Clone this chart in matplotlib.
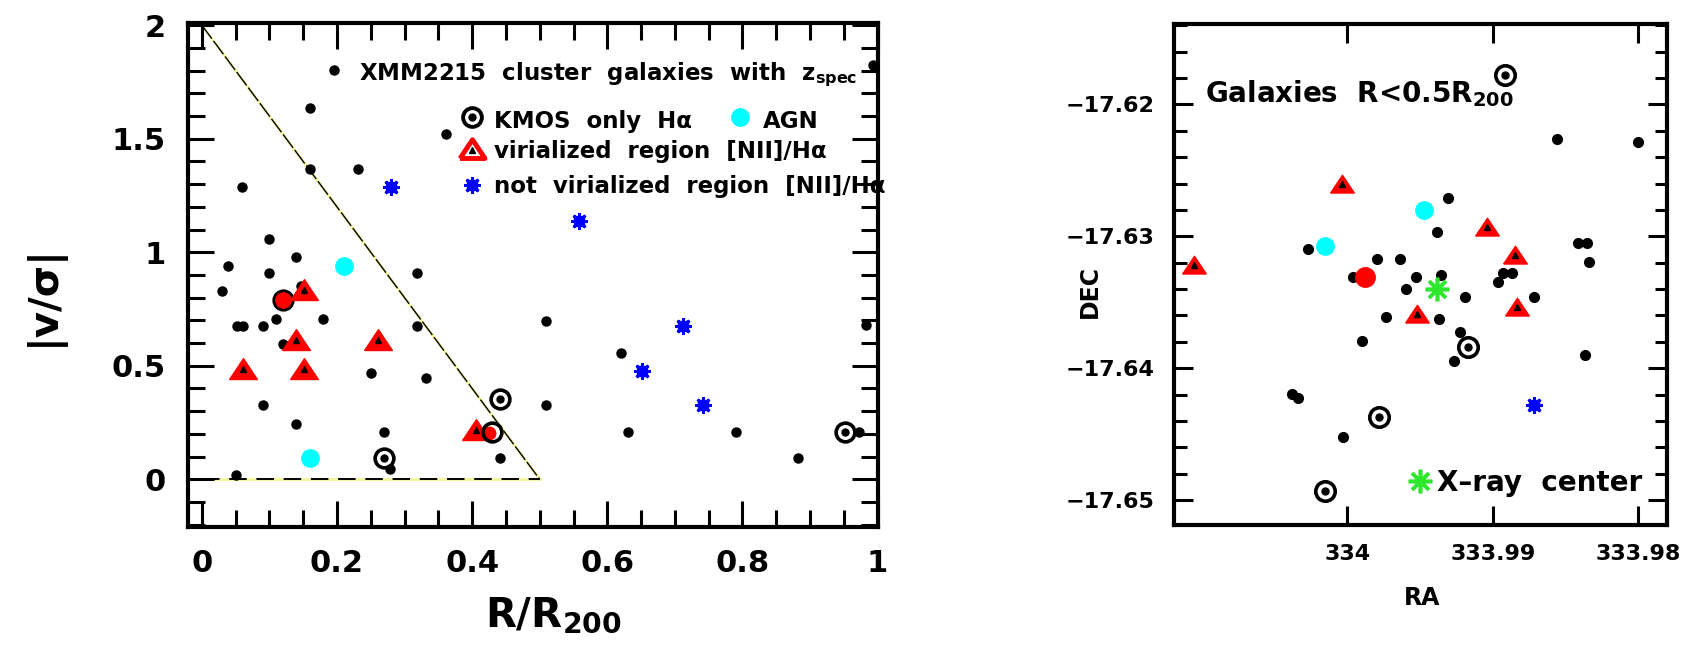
import matplotlib
matplotlib.use("Agg")
import matplotlib.pyplot as plt
from matplotlib.ticker import MultipleLocator, FuncFormatter

plt.rcParams['font.family'] = ['DejaVu Sans']
plt.rcParams['font.weight'] = 'bold'
plt.rcParams['axes.labelweight'] = 'bold'
plt.rcParams['mathtext.default'] = 'bf'

# ---- left panel data: R/R200 vs |v/sigma|
cl_r = [0.160, 0.361, 0.160, 0.231, 0.059, 0.100, 0.140, 0.039, 0.100, 0.319,
        0.030, 0.110, 0.180, 0.052, 0.061, 0.090, 0.319, 0.510, 0.620, 0.120,
        0.250, 0.331, 0.510, 0.090, 0.140, 0.270, 0.441, 0.279, 0.051, 0.631,
        0.791, 0.973, 0.882, 0.983, 0.993, 0.147]
cl_v = [1.637, 1.523, 1.369, 1.369, 1.288, 1.058, 0.979, 0.940, 0.909, 0.909,
        0.828, 0.708, 0.708, 0.675, 0.675, 0.675, 0.675, 0.697, 0.556, 0.598,
        0.468, 0.448, 0.326, 0.326, 0.245, 0.208, 0.096, 0.047, 0.018, 0.208,
        0.208, 0.208, 0.096, 0.678, 1.824, 0.850]
kmos_r = [0.441, 0.430, 0.269, 0.952]
kmos_v = [0.355, 0.208, 0.096, 0.208]
vir_r = [0.151, 0.140, 0.260, 0.061, 0.151, 0.406]
vir_v = [0.836, 0.612, 0.612, 0.488, 0.488, 0.216]
agn_r = [0.210, 0.160]
agn_v = [0.938, 0.096]
nvir_r = [0.280, 0.558, 0.712, 0.651, 0.742]
nvir_v = [1.288, 1.138, 0.674, 0.476, 0.326]
red_r = [0.120, 0.425]
red_v = [0.789, 0.205]

# ---- right panel data: RA / DEC
gal_ra = [333.98561, 333.98000, 333.99310, 333.99381, 334.00268, 333.98412,
          333.98355, 333.98337, 333.99794, 333.99638, 333.99963, 333.99528,
          333.99358, 333.99597, 333.99191, 333.98962, 333.98928, 333.98870,
          333.98717, 333.99734, 333.99368, 333.99225, 333.99267, 333.99901,
          333.98366, 334.00382, 334.00341, 334.00032]
gal_dec = [-17.62260, -17.62286, -17.62711, -17.62969, -17.63095, -17.63052,
           -17.63052, -17.63196, -17.63171, -17.63171, -17.63310, -17.63305,
           -17.63290, -17.63398, -17.63462, -17.63348, -17.63280, -17.63280,
           -17.63462, -17.63609, -17.63626, -17.63728, -17.63948, -17.63796,
           -17.63904, -17.64195, -17.64225, -17.64519]
vir_ra = [334.00038, 333.99038, 333.98847, 334.01054, 333.98836, 333.99519]
vir_dec = [-17.62602, -17.62926, -17.63140, -17.63220, -17.63538, -17.63588]
agn_ra = [333.99473, 334.00153]
agn_dec = [-17.62799, -17.63077]
red_ra = [333.99878]
red_dec = [-17.63310]
kmos_ra = [333.98916, 333.99173, 333.99780, 334.00153]
kmos_dec = [-17.61780, -17.63841, -17.64367, -17.64929]
nvir_ra = [333.98715]
nvir_dec = [-17.64276]
xray_ra = [333.99386]
xray_dec = [-17.63398]

fig = plt.figure(figsize=(16.89, 6.51), dpi=100)

tri = [(-1, -0.72), (1, -0.72), (0, 0.78), (-1, -0.72)]
star = (8, 2, 0)


def bluestar(a, x, y):
    a.plot(x, y, 's', color='blue', ms=7.5, zorder=4)
    a.plot(x, y, marker=star, ls='none', color='blue', ms=12, mew=2, zorder=4)


# ================= left panel
ax = fig.add_axes([0.1115, 0.1905, 0.4081, 0.7742])
ax.plot([0, 0.5], [0, 0], color='#f4f49a', lw=2, zorder=1)
ax.plot([0, 0.5], [2, 0], color='#f4f49a', lw=2, zorder=1)
ax.plot([0, 0.5], [0, 0], color='black', lw=1.4, dashes=(9, 5), zorder=2)
ax.plot([0, 0.5], [2, 0], color='black', lw=1.0, dashes=(12, 2), zorder=2)

ax.plot(cl_r, cl_v, 'o', color='black', ms=6.5, zorder=3)
ax.plot(red_r[:1], red_v[:1], 'o', mfc='red', mec='black', mew=2, ms=14, zorder=4)
ax.plot(red_r[1:], red_v[1:], 'o', mfc='red', mec='red', ms=9, zorder=4)
ax.plot(vir_r, vir_v, marker=tri, ls='none', mfc='red', mec='red', ms=20, zorder=5)
ax.plot(vir_r, vir_v, '^', color='black', ms=5, zorder=6)
ax.plot(agn_r, agn_v, 'o', color='cyan', ms=12.5, zorder=4)
bluestar(ax, nvir_r, nvir_v)
ax.plot(kmos_r, kmos_v, 'o', mfc='none', mec='black', ms=13.5, mew=2.6, zorder=6)
ax.plot(kmos_r[::2], kmos_v[::2], 'o', color='black', ms=5, zorder=6)
ax.plot(kmos_r[3:], kmos_v[3:], 'o', color='black', ms=5, zorder=6)

# legend, drawn in place like the original
fs = 16.5
ax.plot([0.195], [1.802], 'o', color='black', ms=6.5)
ax.text(0.232, 1.758, 'XMM2215  cluster  galaxies  with  z$_{spec}$', fontsize=fs, va='baseline')
ax.plot([0.400], [1.596], 'o', mfc='none', mec='black', ms=13.5, mew=2.8)
ax.plot([0.400], [1.596], 'o', color='black', ms=5)
ax.text(0.432, 1.546, 'KMOS  only  H\u03b1', fontsize=fs, va='baseline')
ax.plot([0.797], [1.596], 'o', color='cyan', ms=12.5)
ax.text(0.830, 1.546, 'AGN', fontsize=fs, va='baseline')
ax.plot([0.400], [1.457], marker=tri, ls='none', mfc='white', mec='red', mew=3.5, ms=18)
ax.plot([0.400], [1.450], '^', color='black', ms=5)
ax.text(0.432, 1.414, 'virialized  region  [NII]/H\u03b1', fontsize=fs, va='baseline')
bluestar(ax, [0.400], [1.295])
ax.text(0.432, 1.260, 'not  virialized  region  [NII]/H\u03b1', fontsize=fs, va='baseline')

ax.set_xlim(-0.02, 1.0)
ax.set_ylim(-0.21, 2.01)
ax.xaxis.set_major_locator(MultipleLocator(0.2))
ax.xaxis.set_minor_locator(MultipleLocator(0.05))
ax.yaxis.set_major_locator(MultipleLocator(0.5))
ax.yaxis.set_minor_locator(MultipleLocator(0.1))
fmt = FuncFormatter(lambda v, p: f'{v:g}')
ax.xaxis.set_major_formatter(fmt)
ax.yaxis.set_major_formatter(fmt)
ax.tick_params(which='both', direction='in', top=True, right=True, width=2.2, labelsize=22)
ax.tick_params(which='major', length=19, pad=16)
ax.tick_params(which='minor', length=12)
ax.tick_params(axis='y', pad=16)
for s in ax.spines.values():
    s.set_linewidth(3)
ax.set_xlabel('R/R$_{200}$', fontsize=29)
ax.xaxis.label.set_va('center')
ax.xaxis.set_label_coords(0.53, -0.175)
ax.set_ylabel('|v/\u03c3|', fontsize=29)
ax.yaxis.label.set_va('center')
ax.yaxis.set_label_coords(-0.211, 0.46)

# ================= right panel
bx = fig.add_axes([0.6951, 0.1935, 0.2917, 0.7696])
bx.plot(gal_ra, gal_dec, 'o', color='black', ms=7, zorder=3)
bx.plot(vir_ra, vir_dec, marker=tri, ls='none', mfc='red', mec='red', ms=17, zorder=5)
bx.plot(vir_ra, vir_dec, '^', color='black', ms=4, zorder=6)
bx.plot(agn_ra, agn_dec, 'o', color='cyan', ms=12.5, zorder=4)
bx.plot(red_ra, red_dec, 'o', color='red', ms=14, zorder=4)
bx.plot(kmos_ra, kmos_dec, 'o', mfc='none', mec='black', ms=14, mew=2.6, zorder=6)
bx.plot(kmos_ra, kmos_dec, 'o', color='black', ms=5, zorder=6)
bluestar(bx, nvir_ra, nvir_dec)
bx.plot(xray_ra, xray_dec, marker=star, ls='none', color='#2ee82e', ms=17, mew=2.6, zorder=7)

bx.text(334.00978, -17.61983, 'Galaxies  R<0.5R$_{200}$', fontsize=20, va='baseline')
bx.plot([333.99500], [-17.64853], marker=star, ls='none', color='#2ee82e', ms=17, mew=2.6)
bx.text(333.99386, -17.64929, 'X\u2013ray  center', fontsize=20, va='baseline')

bx.set_xlim(334.01191, 333.97805)
bx.set_ylim(-17.6519, -17.6139)
bx.set_xticks([334.0, 333.99, 333.98])
bx.set_yticks([-17.62, -17.63, -17.64, -17.65])
bx.yaxis.set_minor_locator(MultipleLocator(0.002))
fmt2 = FuncFormatter(lambda v, p: f'{v:g}'.replace('-', '\u2212'))
bx.xaxis.set_major_formatter(fmt2)
bx.yaxis.set_major_formatter(fmt2)
bx.tick_params(which='both', direction='in', top=True, right=True, width=2.2, labelsize=16)
bx.tick_params(which='major', length=14, pad=14)
bx.tick_params(which='minor', length=9)
for s in bx.spines.values():
    s.set_linewidth(3)
bx.set_xlabel('RA', fontsize=17)
bx.xaxis.label.set_va('center')
bx.xaxis.set_label_coords(0.503, -0.145)
bx.set_ylabel('DEC', fontsize=17)
bx.yaxis.label.set_va('center')
bx.yaxis.set_label_coords(-0.17, 0.467)

fig.savefig('out.png', dpi=100)
